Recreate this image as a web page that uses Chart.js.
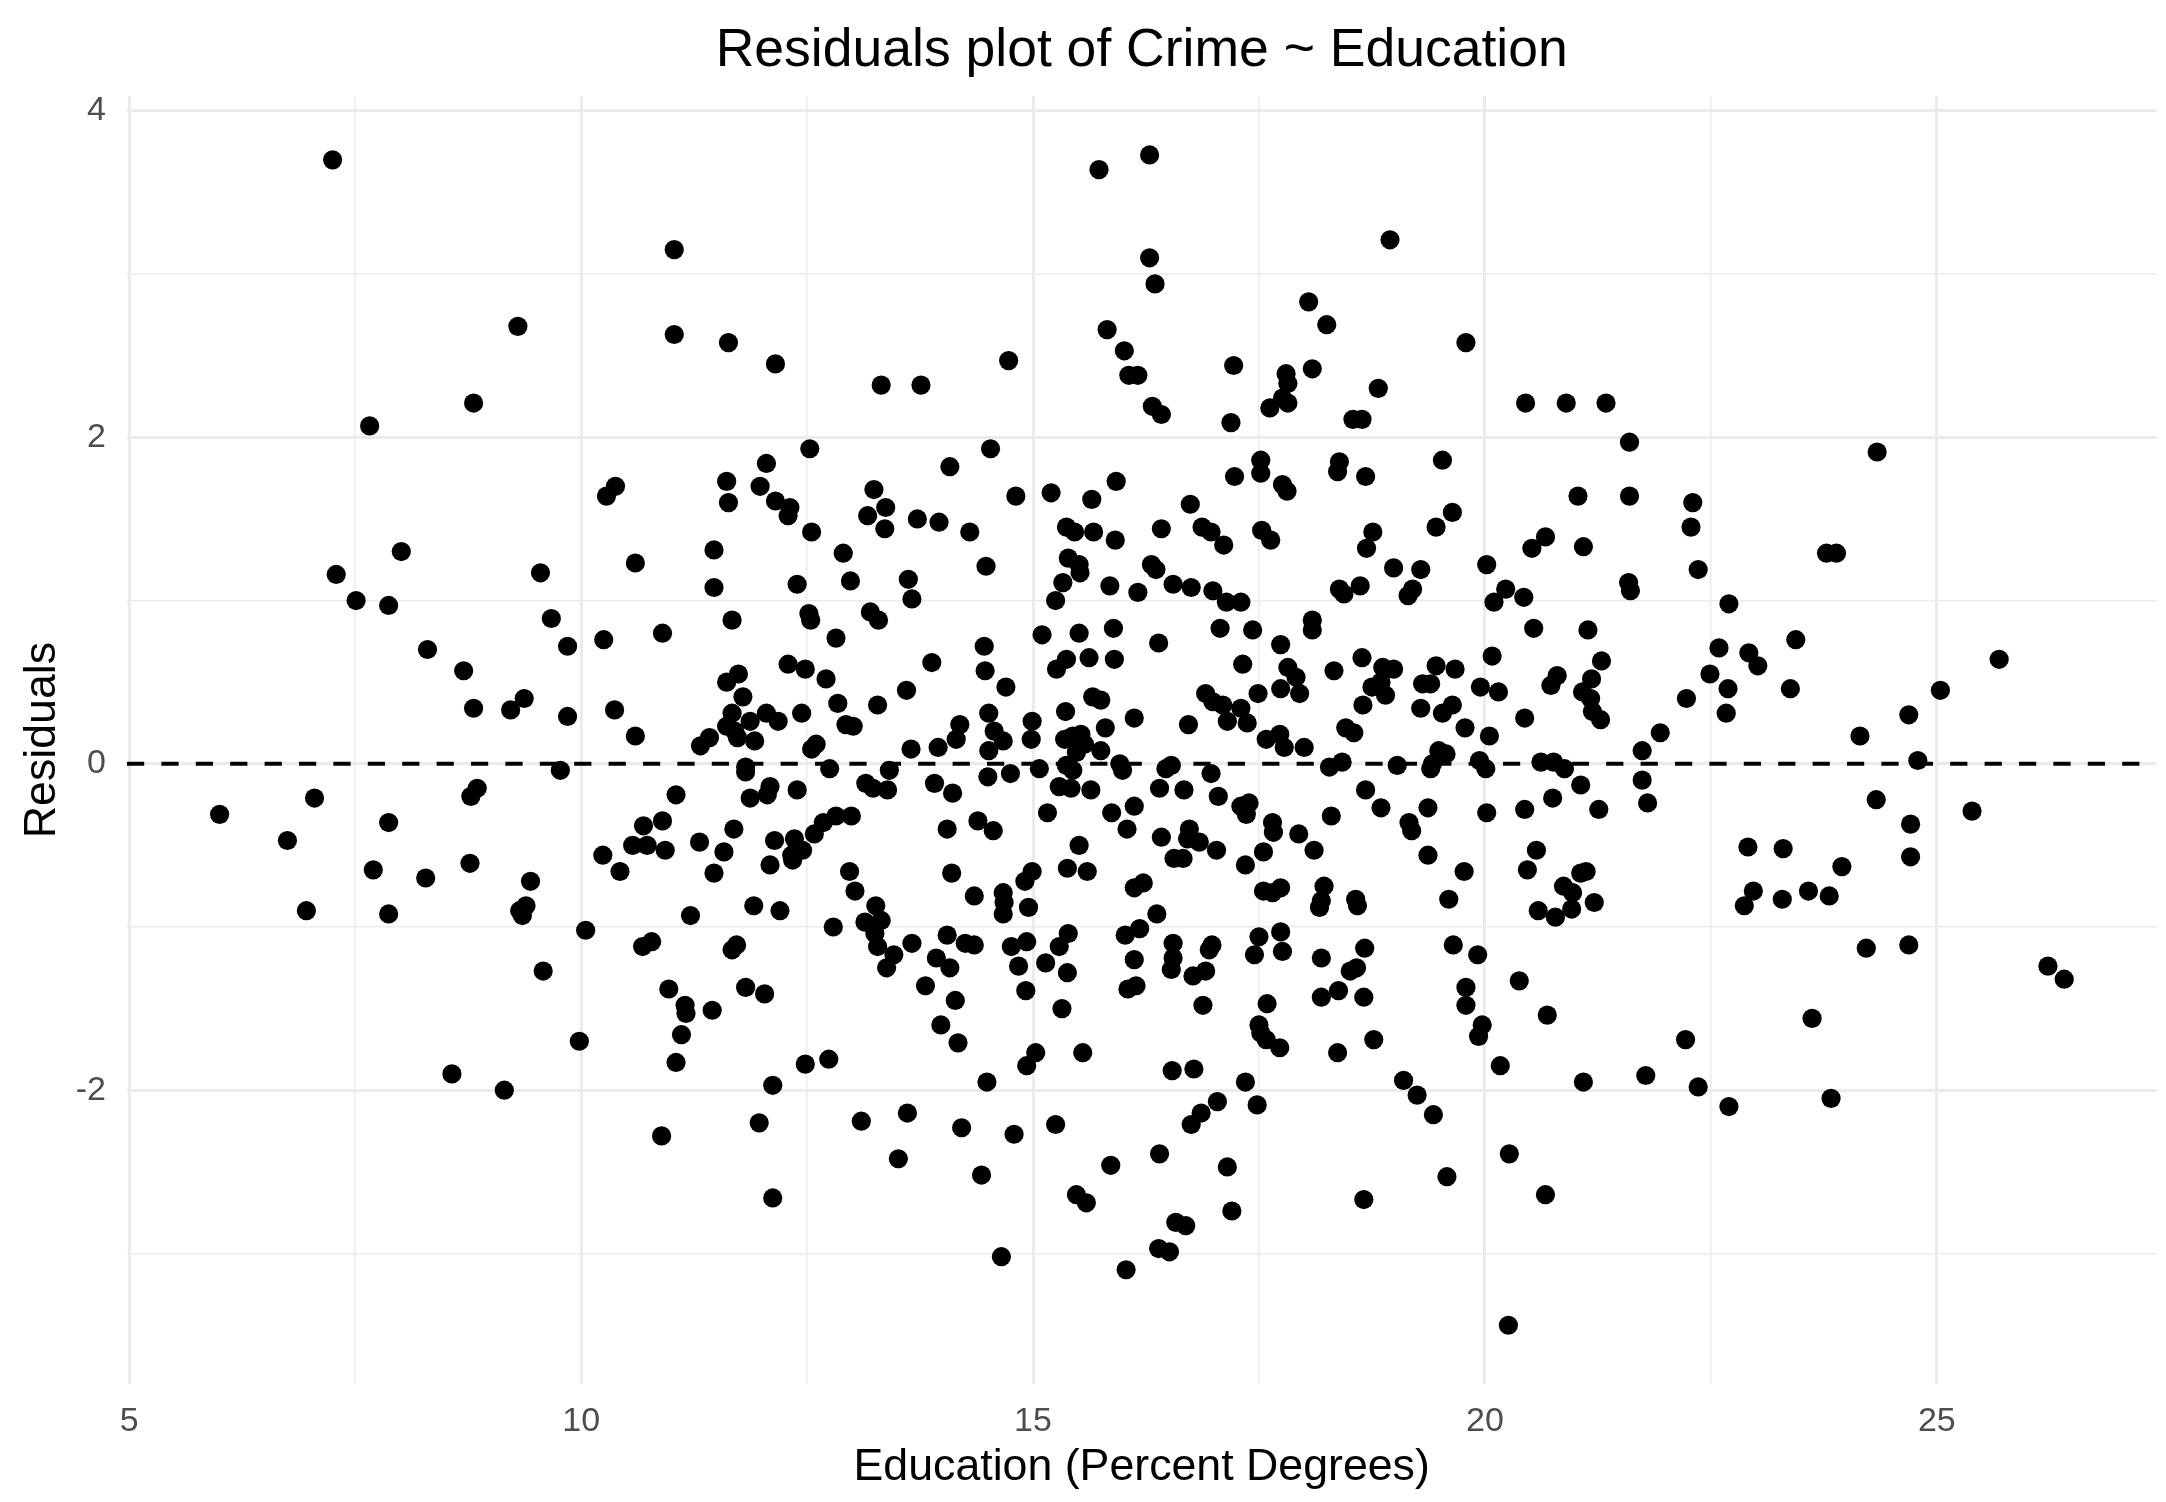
<!DOCTYPE html>
<html>
<head>
<meta charset="utf-8">
<title>Residuals plot of Crime ~ Education</title>
<script src="https://cdn.jsdelivr.net/npm/chart.js@4/dist/chart.umd.min.js"></script>
<style>
  html, body { margin: 0; padding: 0; background: #ffffff; }
  canvas { display: block; }
</style>
</head>
<body>
<canvas id="residualChart" width="2166" height="1502"></canvas>
<script>
// Education level (percent with degrees) for each observation
const education = [
  7.25, 9.30, 8.81, 7.66, 10.38, 10.28, 8.01, 11.03, 11.03, 11.63,
  12.15, 13.32, 13.76, 14.73, 15.73, 15.82, 16.01, 16.06, 16.16, 12.53,
  12.05, 11.61, 11.63, 11.98, 12.15, 12.31, 12.29, 12.55, 11.47, 12.90,
  13.24, 13.37, 13.17, 13.36, 13.72, 13.96, 14.30, 14.08, 14.53, 14.81,
  15.20, 15.65, 15.92, 15.37, 15.46, 15.67, 15.91, 16.29, 16.29, 16.35,
  18.95, 18.05, 18.25, 19.79, 17.22, 16.32, 16.42, 17.19, 17.80, 17.82,
  18.09, 17.76, 17.82, 17.62, 18.82, 18.54, 18.64, 20.45, 20.90, 21.34,
  21.60, 21.60, 21.03, 17.52, 17.52, 17.23, 17.76, 17.81, 18.39, 18.37,
  18.68, 19.53, 19.64, 19.46, 16.74, 16.42, 16.87, 16.97, 17.11, 17.53,
  17.63, 18.76, 18.69, 20.67, 20.52, 21.09, 24.34, 22.30, 22.28, 23.78,
  23.89, 10.60, 14.48, 7.29, 7.51, 7.87, 9.55, 9.67, 9.85, 10.25,
  8.30, 8.70, 8.81, 9.22, 9.37, 9.85, 10.37, 10.60, 9.77, 6.00,
  7.05, 6.75, 7.87, 8.85, 8.78, 7.70, 8.28, 8.77, 9.44, 9.39,
  9.32, 9.35, 6.96, 7.87, 10.05, 9.58, 10.24, 10.43, 11.47, 10.90,
  11.67, 12.39, 12.98, 13.62, 13.66, 12.52, 12.54, 12.82, 13.20, 13.29,
  14.46, 14.47, 14.70, 13.88, 13.60, 13.28, 12.29, 12.48, 12.71, 12.84,
  12.44, 12.93, 13.01, 11.61, 11.74, 11.79, 11.67, 11.87, 12.05, 12.18,
  11.61, 11.70, 11.73, 11.92, 11.42, 11.32, 12.60, 12.55, 11.82, 11.82,
  12.75, 13.41, 13.65, 13.95, 14.19, 14.15, 14.51, 14.57, 14.67, 14.51,
  14.99, 14.98, 14.50, 14.75, 15.07, 15.36, 15.35, 15.44, 15.53, 15.57,
  15.48, 15.37, 15.44, 15.29, 15.42, 15.64, 15.75, 15.80, 15.66, 15.75,
  15.90, 15.62, 15.37, 15.26, 15.10, 15.51, 15.89, 15.25, 15.33, 15.39,
  15.51, 15.52, 15.85, 16.16, 16.12, 15.96, 15.99, 11.05, 10.69, 10.90,
  10.57, 10.73, 10.93, 11.31, 11.58, 11.69, 11.87, 12.09, 12.06, 12.39,
  12.14, 12.36, 12.45, 12.33, 12.34, 12.09, 11.47, 12.58, 12.68, 12.82,
  12.99, 13.15, 13.23, 13.39, 13.91, 14.11, 14.05, 14.39, 14.56, 15.16,
  15.51, 15.38, 15.60, 15.87, 16.04, 16.12, 12.97, 13.03, 14.10, 14.35,
  14.67, 14.68, 14.67, 14.99, 14.91, 14.95, 16.12, 11.91, 12.20, 11.21,
  12.79, 13.26, 13.14, 13.32, 13.25, 13.28, 13.46, 13.38, 13.66, 14.05,
  14.25, 14.35, 13.93, 14.08, 14.76, 14.93, 14.84, 15.14, 15.39, 15.29,
  15.38, 16.02, 16.12, 10.68, 10.78, 11.67, 11.72, 16.31, 16.36, 16.55,
  16.75, 16.99, 17.14, 17.30, 18.99, 19.29, 18.39, 18.44, 18.62, 19.20,
  19.15, 20.02, 20.23, 20.10, 20.43, 21.59, 21.61, 16.39, 17.07, 17.43,
  17.32, 17.74, 18.09, 18.09, 16.91, 16.99, 17.10, 17.15, 17.30, 17.37,
  17.49, 16.72, 17.82, 17.91, 17.74, 17.95, 18.33, 18.64, 18.75, 18.87,
  18.99, 18.90, 18.85, 18.65, 18.46, 18.55, 17.58, 17.73, 17.78, 18.00,
  19.46, 19.67, 19.31, 19.40, 19.29, 19.53, 19.64, 19.78, 19.95, 20.15,
  20.08, 20.05, 20.44, 20.54, 21.14, 21.29, 20.80, 20.73, 21.18, 21.08,
  21.17, 21.19, 21.28, 16.47, 16.53, 16.97, 16.40, 16.67, 17.05, 17.30,
  17.39, 17.36, 16.42, 16.73, 16.71, 16.84, 17.03, 16.56, 16.66, 17.35,
  17.65, 17.66, 17.55, 17.94, 18.11, 18.30, 18.28, 18.42, 18.68, 18.85,
  19.03, 19.37, 19.16, 19.19, 19.37, 19.49, 19.57, 19.42, 19.40, 19.94,
  20.01, 19.77, 19.60, 20.02, 20.44, 20.75, 20.62, 20.76, 20.88, 21.06,
  21.26, 20.57, 20.47, 21.06, 21.12, 20.87, 20.97, 21.21, 20.59, 20.78,
  20.96, 16.22, 16.37, 16.18, 16.55, 16.55, 16.53, 16.98, 16.95, 16.91,
  16.77, 17.50, 17.45, 17.74, 17.76, 18.19, 18.67, 18.51, 18.58, 17.55,
  17.65, 17.74, 18.22, 18.19, 18.17, 18.57, 18.59, 19.65, 19.92, 22.36,
  22.70, 22.59, 22.92, 23.02, 23.44, 22.49, 22.69, 22.23, 22.67, 23.38,
  25.69, 25.04, 24.69, 24.15, 21.94, 21.74, 24.79, 21.74, 21.80, 24.33,
  25.39, 24.71, 22.91, 23.30, 24.71, 23.95, 22.97, 22.87, 23.29, 23.58,
  23.81, 24.22, 24.69, 26.23, 26.41, 9.98, 8.57, 9.15, 10.97, 11.15,
  11.16, 11.45, 11.11, 11.05, 11.82, 12.03, 12.12, 12.48, 12.74, 10.89,
  11.97, 12.12, 13.10, 13.61, 13.51, 13.81, 14.14, 13.98, 14.17, 14.92,
  15.32, 15.03, 14.93, 15.55, 14.49, 14.21, 14.79, 15.25, 14.43, 15.86,
  15.48, 15.59, 14.65, 16.03, 16.05, 16.14, 16.88, 17.59, 17.50, 17.52,
  17.58, 17.73, 18.19, 18.38, 18.66, 18.37, 18.77, 19.79, 19.79, 19.97,
  19.93, 20.38, 20.69, 20.17, 21.09, 21.78, 16.54, 16.78, 17.35, 17.04,
  16.86, 16.75, 17.48, 19.10, 19.25, 19.43, 16.40, 17.15, 17.20, 16.58,
  16.69, 16.39, 16.51, 18.66, 19.58, 20.27, 20.67, 20.26, 23.62, 22.22,
  22.36, 22.70, 23.83
];

// Model residuals, in the same order as education
const residuals = [
  3.70, 2.68, 2.21, 2.07, 1.70, 1.64, 1.30, 3.15, 2.63, 2.58,
  2.45, 2.32, 2.32, 2.47, 3.64, 2.66, 2.53, 2.38, 2.38, 1.93,
  1.84, 1.73, 1.60, 1.70, 1.61, 1.57, 1.52, 1.42, 1.31, 1.29,
  1.68, 1.57, 1.52, 1.44, 1.50, 1.48, 1.42, 1.82, 1.93, 1.64,
  1.66, 1.62, 1.73, 1.45, 1.42, 1.42, 1.37, 3.73, 3.10, 2.94,
  3.21, 2.83, 2.69, 2.58, 2.44, 2.19, 2.14, 2.09, 2.39, 2.33,
  2.42, 2.24, 2.21, 2.18, 2.30, 2.11, 2.11, 2.21, 2.21, 2.21,
  1.97, 1.64, 1.64, 1.86, 1.78, 1.76, 1.71, 1.67, 1.85, 1.79,
  1.76, 1.86, 1.54, 1.45, 1.59, 1.44, 1.45, 1.42, 1.34, 1.43,
  1.37, 1.42, 1.32, 1.39, 1.32, 1.33, 1.91, 1.60, 1.45, 1.29,
  1.29, 1.23, 1.21, 1.16, 1.00, 0.97, 1.17, 0.89, 0.72, 0.76,
  0.70, 0.57, 0.34, 0.33, 0.40, 0.29, 0.33, 0.17, -0.04, -0.31,
  -0.21, -0.47, -0.36, -0.15, -0.20, -0.65, -0.70, -0.61, -0.72, -0.87,
  -0.90, -0.93, -0.90, -0.92, -1.02, -1.27, -0.56, -0.66, 1.08, 0.80,
  0.88, 1.10, 1.12, 1.13, 1.01, 0.92, 0.88, 0.77, 0.93, 0.88,
  0.72, 0.57, 0.47, 0.62, 0.45, 0.36, 0.61, 0.58, 0.52, 0.37,
  0.31, 0.24, 0.23, 0.50, 0.55, 0.41, 0.31, 0.26, 0.31, 0.26,
  0.23, 0.20, 0.16, 0.14, 0.16, 0.11, 0.12, 0.09, -0.02, -0.05,
  -0.03, -0.04, 0.09, 0.10, 0.24, 0.15, 0.31, 0.20, 0.14, 0.08,
  0.26, 0.15, -0.08, -0.06, -0.03, 0.32, 0.15, 0.17, 0.18, 0.12,
  0.07, -0.01, -0.04, -0.14, -0.15, -0.16, 0.08, 0.22, 0.41, 0.39,
  0.64, 0.65, 0.64, 0.58, 0.79, 0.80, 0.83, 1.00, 1.11, 1.26,
  1.22, 1.17, 1.09, 1.05, 0.28, 0.00, -0.04, -0.19, -0.38, -0.35,
  -0.50, -0.50, -0.53, -0.48, -0.54, -0.40, -0.21, -0.14, -0.19, -0.16,
  -0.47, -0.46, -0.53, -0.56, -0.59, -0.62, -0.67, -0.43, -0.36, -0.32,
  -0.32, -0.12, -0.15, -0.16, -0.12, -0.18, -0.40, -0.35, -0.41, -0.30,
  -0.50, -0.64, -0.66, -0.30, -0.40, -0.26, -0.66, -0.78, -0.67, -0.81,
  -0.79, -0.85, -0.92, -0.66, -0.72, -0.88, -0.76, -0.87, -0.90, -0.93,
  -1.00, -0.87, -0.97, -0.96, -1.04, -1.12, -1.17, -1.25, -1.10, -1.05,
  -1.10, -1.11, -1.19, -1.25, -1.12, -1.09, -1.24, -1.22, -1.04, -1.12,
  -1.28, -1.05, -1.20, -1.12, -1.09, -1.14, -1.11, 1.22, 1.19, 1.10,
  1.08, 1.06, 0.99, 0.99, 1.20, 1.19, 1.07, 1.04, 1.09, 1.07,
  1.03, 1.22, 1.07, 0.99, 1.02, 1.11, 1.06, 0.74, 0.83, 0.82,
  0.61, 0.73, 0.88, 0.82, 0.43, 0.38, 0.36, 0.26, 0.34, 0.25,
  0.43, 0.24, 0.59, 0.53, 0.46, 0.43, 0.57, 0.65, 0.47, 0.59,
  0.58, 0.42, 0.50, 0.36, 0.22, 0.19, 0.15, 0.18, 0.10, 0.10,
  0.60, 0.58, 0.49, 0.49, 0.34, 0.31, 0.36, 0.22, 0.47, 0.44,
  0.66, 0.17, 0.28, 0.83, 0.82, 0.63, 0.54, 0.48, 0.52, 0.44,
  0.40, 0.32, 0.27, -0.03, -0.01, -0.06, -0.15, -0.16, -0.20, -0.26,
  -0.24, -0.31, -0.45, -0.40, -0.46, -0.48, -0.53, -0.58, -0.58, -0.62,
  -0.36, -0.42, -0.54, -0.43, -0.53, -0.32, -0.02, 0.01, -0.16, -0.27,
  -0.01, -0.27, -0.36, -0.41, -0.56, 0.08, 0.06, 0.00, -0.03, 0.02,
  -0.03, -0.66, -0.83, -0.30, -0.28, -0.21, 0.01, 0.01, -0.03, -0.13,
  -0.28, -0.53, -0.65, -0.67, -0.66, -0.75, -0.79, -0.85, -0.90, -0.94,
  -0.89, -0.73, -0.92, -1.01, -1.10, -1.19, -1.26, -1.11, -1.14, -1.27,
  -1.30, -1.06, -1.17, -1.03, -1.15, -1.19, -1.13, -1.27, -1.25, -0.78,
  -0.79, -0.76, -0.75, -0.84, -0.88, -0.83, -0.87, -1.11, -1.17, 1.19,
  0.98, 0.71, 0.68, 0.60, 0.76, 0.55, 0.46, 0.40, 0.31, 0.46,
  0.64, 0.45, 0.30, 0.17, 0.19, 0.08, 0.02, -0.10, -0.24, -0.22,
  -0.29, -0.37, -0.51, -0.52, -0.57, -0.63, -0.78, -0.87, -0.83, -0.78,
  -0.81, -1.13, -1.11, -1.24, -1.32, -1.70, -1.90, -2.00, -1.38, -1.48,
  -1.53, -1.51, -1.66, -1.83, -1.37, -1.41, -1.97, -1.84, -1.81, -2.28,
  -2.20, -2.66, -2.19, -2.14, -2.42, -1.36, -1.45, -1.60, -1.71, -1.39,
  -1.50, -1.77, -1.85, -1.77, -1.95, -2.23, -2.27, -2.21, -2.52, -2.46,
  -2.64, -2.69, -3.02, -3.10, -1.38, -1.36, -1.48, -1.47, -1.60, -1.65,
  -1.69, -1.74, -1.43, -1.39, -1.43, -1.77, -1.69, -1.37, -1.48, -1.60,
  -1.67, -1.33, -1.54, -1.85, -1.95, -1.91, -1.88, -1.87, -1.95, -2.07,
  -2.14, -2.21, -2.09, -1.94, -2.03, -2.15, -2.39, -2.47, -2.74, -2.81,
  -2.83, -2.97, -2.99, -2.67, -2.53, -2.39, -2.64, -3.44, -1.56, -1.69,
  -1.98, -2.10, -2.05
];

// Axis ticks: labelled (major) and unlabelled (minor) grid positions
const xMajorTicks = [5, 10, 15, 20, 25];
const xMinorTicks = [7.5, 12.5, 17.5, 22.5];
const yMajorTicks = [-2, 0, 2, 4];
const yMinorTicks = [-3, -1, 1, 3];

// Axis limits (data range padded by 5% on each side)
const xLimits = [4.975, 27.43];
const yLimits = [-3.80, 4.09];

// Reference level for the dashed residual line
const referenceLevel = 0;

const FONT = '"Liberation Sans", Arial, Helvetica, sans-serif';

const points = education.map((x, i) => ({ x: x, y: residuals[i] }));

const isIn = (v, list) => list.some(m => Math.abs(m - v) < 1e-9);

const withTicks = (majors, minors) => scale => {
  scale.ticks = majors.concat(minors).sort((a, b) => a - b).map(v => ({ value: v }));
};

// Dashed horizontal line at the reference level, across the whole panel
const referenceLinePlugin = {
  id: 'referenceLine',
  afterDatasetsDraw(chart) {
    const { ctx, chartArea, scales } = chart;
    const y = scales.y.getPixelForValue(referenceLevel);
    ctx.save();
    ctx.beginPath();
    ctx.setLineDash([17.2, 17.2]);
    ctx.lineWidth = 3.8;
    ctx.strokeStyle = '#000000';
    ctx.moveTo(chartArea.left, y);
    ctx.lineTo(chartArea.right, y);
    ctx.stroke();
    ctx.restore();
  }
};

new Chart(document.getElementById('residualChart'), {
  type: 'scatter',
  data: {
    datasets: [{
      label: 'Residuals',
      data: points,
      pointRadius: 9.6,
      pointHoverRadius: 9.6,
      pointBackgroundColor: '#000000',
      pointBorderWidth: 0,
      borderWidth: 0
    }]
  },
  options: {
    responsive: false,
    animation: false,
    events: [],
    layout: { padding: { left: 0, right: 8, top: 0, bottom: 0 } },
    plugins: {
      legend: { display: false },
      tooltip: { enabled: false },
      title: {
        display: true,
        text: 'Residuals plot of Crime ~ Education',
        fullSize: false,
        color: '#000000',
        font: { family: FONT, size: 53.5, weight: 'normal', lineHeight: 1.2 },
        padding: { top: 19, bottom: 13 }
      }
    },
    scales: {
      x: {
        type: 'linear',
        min: xLimits[0],
        max: xLimits[1],
        afterBuildTicks: withTicks(xMajorTicks, xMinorTicks),
        afterFit: scale => { scale.height = 118; },
        border: { display: false },
        grid: {
          drawTicks: false,
          color: '#ebebeb',
          lineWidth: ctx => (ctx.tick && isIn(ctx.tick.value, xMajorTicks)) ? 3 : 1.5
        },
        ticks: {
          autoSkip: false,
          maxRotation: 0,
          padding: 17,
          color: '#4d4d4d',
          font: { family: FONT, size: 34 },
          callback: v => isIn(v, xMajorTicks) ? String(v) : ''
        },
        title: {
          display: true,
          text: 'Education (Percent Degrees)',
          color: '#000000',
          font: { family: FONT, size: 44.7, lineHeight: 1.2 },
          padding: { top: 0, bottom: 8 }
        }
      },
      y: {
        type: 'linear',
        min: yLimits[0],
        max: yLimits[1],
        afterBuildTicks: withTicks(yMajorTicks, yMinorTicks),
        afterFit: scale => { scale.width = 127; },
        border: { display: false },
        grid: {
          drawTicks: false,
          color: '#ebebeb',
          lineWidth: ctx => (ctx.tick && isIn(ctx.tick.value, yMajorTicks)) ? 3 : 1.5
        },
        ticks: {
          autoSkip: false,
          padding: 21,
          color: '#4d4d4d',
          font: { family: FONT, size: 34 },
          callback: v => isIn(v, yMajorTicks) ? String(v) : ''
        },
        title: {
          display: true,
          text: 'Residuals',
          color: '#000000',
          font: { family: FONT, size: 44.7, lineHeight: 1.2 },
          padding: { top: 16, bottom: 0 }
        }
      }
    }
  },
  plugins: [referenceLinePlugin]
});
</script>
</body>
</html>
